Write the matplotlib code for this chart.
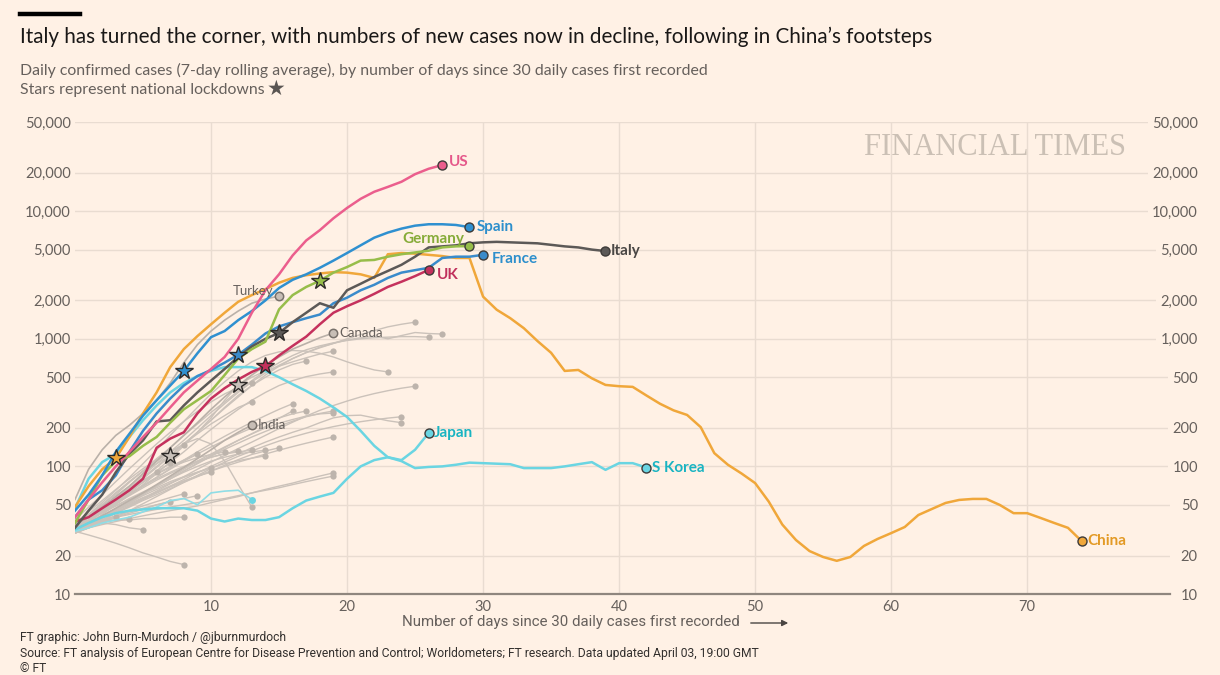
import numpy as np
import matplotlib
matplotlib.use("Agg")
import matplotlib.pyplot as plt
from matplotlib.ticker import FixedLocator, NullLocator

BG    = "#fff1e5"
GRID  = "#e9dcd1"
TXT   = "#66605c"
GREYL = "#cbc2ba"
GREYD = "#bdb4ac"

plt.rcParams["font.family"] = ["Lato", "DejaVu Sans"]

# ---- data: daily cases (7-day avg), index = days since 30 daily cases
us = [40, 55, 75, 100, 130, 170, 220, 290, 380, 470, 580, 720, 1000, 1600, 2400,
      3200, 4500, 5900, 7100, 8800, 10600, 12500, 14200, 15500, 17000, 19500, 21500, 23000]
spain = [45, 60, 85, 130, 180, 250, 330, 430, 560, 770, 1030, 1150, 1400, 1650, 2000,
         2500, 2900, 3200, 3600, 4100, 4700, 5400, 6200, 6800, 7300, 7700, 7900, 7900, 7800, 7500]
france = [40, 55, 65, 85, 130, 190, 260, 340, 430, 510, 570, 650, 750, 900, 1100,
          1250, 1350, 1450, 1550, 1900, 2100, 2400, 2650, 3000, 3300, 3450, 3600, 4300,
          4400, 4400, 4550]
germany = [36, 55, 85, 110, 120, 145, 170, 220, 280, 330, 390, 520, 700, 830, 950,
           1700, 2200, 2550, 2850, 3300, 3650, 4100, 4150, 4400, 4600, 4750, 4900, 5200,
           5300, 5330]
italy = [33, 45, 60, 90, 125, 160, 225, 230, 300, 380, 470, 580, 720, 870, 1000,
         1110, 1350, 1600, 1900, 1750, 2400, 2700, 3050, 3400, 3800, 4400, 5200, 5300,
         5400, 5600, 5700, 5750, 5700, 5650, 5600, 5450, 5300, 5200, 5000, 4870]
uk = [37, 40, 47, 55, 65, 80, 140, 165, 185, 260, 340, 410, 480, 550, 610, 740, 880,
      1040, 1300, 1600, 1800, 2000, 2250, 2550, 2800, 3100, 3470]
china = [48, 70, 95, 116, 170, 260, 380, 600, 830, 1050, 1300, 1600, 1950, 2200, 2450,
         2750, 3000, 3150, 3250, 3330, 3300, 3200, 3000, 4600, 4700, 4650, 4550, 4450,
         4300, 4300, 2140, 1690, 1450, 1210, 960, 777, 560, 570, 490, 435, 425, 420,
         360, 310, 275, 253, 203, 127, 103, 88, 74, 53, 35, 26.5, 21.7, 19.5, 18.2, 19.5,
         23.8, 27, 30, 33.5, 41.6, 46.4, 51.7, 54.6, 55.6, 55.6, 49.8, 43, 43, 39.4, 36,
         33, 26]
skorea = [47, 80, 108, 125, 170, 230, 300, 380, 450, 510, 560, 600, 600, 600, 560, 500,
          440, 390, 340, 290, 244, 190, 145, 118, 110, 97, 99, 100, 103, 107, 106, 105,
          104, 97, 97, 97, 100, 104, 108, 94, 106, 106, 98]
japan = [32, 36, 40, 43, 45, 46, 47, 47, 47, 45, 39, 37, 39, 38, 38, 40, 47, 54, 58, 62,
         80, 100, 112, 118, 112, 135, 183]
cyan_short = [31, 33, 36, 38, 40, 44, 48, 54, 56, 50, 62, 64, 65, 55]

turkey = [55, 95, 135, 175, 210, 260, 330, 450, 650, 900, 1150, 1400, 1650, 1900, 2050, 2160]
canada = [35, 40, 48, 58, 70, 88, 110, 140, 175, 220, 280, 350, 430, 520, 620, 720, 830,
          920, 1020, 1110]
india = [32, 36, 41, 47, 54, 62, 72, 84, 98, 115, 135, 160, 185, 211]

others = [
    [34, 40, 48, 58, 70, 85, 105, 130, 160, 200, 250, 310, 380, 460, 540, 620, 700, 780, 850, 920, 1000, 1080, 1160, 1240, 1300, 1350],
    [36, 42, 50, 60, 75, 92, 115, 140, 175, 215, 265, 320, 390, 470, 560, 650, 740, 820, 880, 930, 970, 1000, 1020, 1030, 1040, 1040, 1030],
    [33, 38, 45, 54, 66, 80, 98, 120, 150, 185, 230, 285, 350, 430, 520, 610, 700, 780, 860, 920, 980, 1020, 1050, 1000, 1060, 1120, 1100, 1090],
    [32, 37, 44, 52, 62, 75, 92, 115, 145, 185, 240, 330, 434, 500, 560, 610, 660, 710, 760, 800],
    [33, 40, 50, 62, 76, 92, 105, 121, 150, 185, 230, 290, 360, 430, 500, 570, 630, 670],
    [34, 42, 52, 65, 82, 105, 135, 175, 225, 290, 370, 460, 560, 660, 740, 790, 810, 800, 770, 720, 660, 610, 570, 550],
    [30, 35, 42, 50, 60, 72, 88, 108, 130, 160, 195, 235, 280, 330, 380, 430, 470, 505, 530, 550],
    [31, 34, 38, 43, 49, 56, 64, 73, 83, 95, 108, 122, 138, 155, 175, 198, 222, 248, 275, 300, 325, 350, 372, 392, 410, 425],
    [38, 48, 60, 76, 96, 120, 150, 185, 225, 270, 320, 370, 415, 450],
    [32, 38, 46, 56, 68, 82, 100, 122, 150, 180, 215, 250, 290, 320],
    [33, 38, 44, 51, 60, 70, 82, 96, 112, 130, 150, 172, 196, 222, 250, 280, 310],
    [30, 34, 39, 45, 52, 60, 70, 82, 95, 110, 125, 142, 160, 180, 205, 238, 272],
    [35, 40, 46, 53, 61, 71, 82, 95, 110, 125, 142, 160, 180, 200, 220, 240, 258, 272],
    [31, 35, 40, 46, 53, 61, 70, 80, 92, 105, 120, 136, 152, 170, 188, 207, 226, 245, 260, 272],
    [36, 40, 44, 49, 55, 62, 70, 80, 92, 106, 122, 140, 160, 180, 200, 218, 233, 248, 258, 262],
    [30, 33, 36, 40, 45, 51, 58, 66, 75, 85, 96, 108, 120, 132, 145, 158, 170, 182, 194, 205, 215, 224, 232, 239, 245],
    [33, 36, 40, 44, 49, 55, 62, 70, 79, 89, 100, 112, 125, 140, 155, 170, 185, 200, 220, 240, 250, 252, 240, 228, 220],
    [32, 36, 40, 45, 50, 56, 62, 69, 76, 84, 92, 100, 108, 116, 125, 134, 143, 152, 161, 170],
    [30, 34, 38, 43, 48, 54, 60, 67, 75, 83, 92, 102, 113, 124, 132, 140],
    [34, 38, 43, 49, 56, 63, 71, 80, 90, 100, 110, 118, 125, 130, 134],
    [31, 35, 40, 46, 52, 59, 66, 74, 82, 90, 98, 105, 111, 116, 121],
    [35, 40, 46, 53, 61, 70, 80, 90, 100, 110, 118, 125, 130, 134],
    [33, 38, 44, 51, 59, 68, 78, 88, 98, 108, 118, 126, 132],
    [36, 42, 49, 57, 66, 76, 87, 98, 108, 117, 124, 130],
    [32, 36, 41, 47, 54, 61, 68, 76, 83, 90, 97],
    [34, 37, 41, 46, 51, 57, 63, 70, 77, 84, 90],
    [31, 33, 35, 37, 39, 41, 43, 45, 47, 49, 52, 55, 58, 62, 66, 70, 74, 79, 84, 89],
    [35, 36, 38, 40, 42, 44, 46, 48, 50, 52, 54, 56, 59, 62, 65, 68, 72, 76, 80, 84],
    [33, 40, 50, 62, 76, 92, 110, 130, 150, 165, 150, 110, 72, 48],
    [32, 38, 45, 54, 64, 75, 88, 100, 112, 125],
    [36, 44, 54, 66, 80, 96, 113, 130, 147],
    [30, 36, 44, 53, 64, 77, 91, 106],
    [33, 40, 48, 57, 67, 78, 90],
    [30, 33, 37, 41, 45, 49, 53, 57, 61],
    [34, 36, 38, 41, 44, 47, 50, 53, 56, 59],
    [31, 34, 37, 40, 43, 46, 50, 53],
    [35, 36, 37, 38, 38, 39, 39, 40, 40],
    [30, 33, 37, 40],
    [34, 36, 37, 38, 39],
    [33, 35, 36, 35, 33, 32],
    [31, 29, 27, 25, 23, 21, 19.5, 18, 17],
]

# lockdown stars: (series, day)
stars_main = [("china", 3), ("spain", 8), ("france", 12), ("uk", 14),
              ("italy", 15), ("germany", 18)]
stars_grey = [(4, 7), (3, 12)]

series = {
    "us":      (us,      "#eb5e8d", "#e5588a", "US"),
    "spain":   (spain,   "#2f90d0", "#2d8fcc", "Spain"),
    "france":  (france,  "#3a8bcb", "#2d8fcc", "France"),
    "germany": (germany, "#97bd4a", "#86ab38", "Germany"),
    "italy":   (italy,   "#5c5957", "#4a4745", "Italy"),
    "uk":      (uk,      "#c5315d", "#c0305c", "UK"),
    "china":   (china,   "#f0a73a", "#e39a25", "China"),
    "skorea":  (skorea,  "#6ad5e2", "#19b4c2", "S Korea"),
    "japan":   (japan,   "#6ad5e2", "#19b4c2", "Japan"),
}

yticks = [10, 20, 50, 100, 200, 500, 1000, 2000, 5000, 10000, 20000, 50000]
ylabels = [f"{v:,}" for v in yticks]
xticks = [10, 20, 30, 40, 50, 60, 70]

W, H = 1220, 675
fig = plt.figure(figsize=(W / 100, H / 100), dpi=100, facecolor=BG)
ax = fig.add_axes([75 / W, 1 - 594 / H, 1095 / W, 472 / H])
ax.set_facecolor(BG)
ax.set_yscale("log")
ax.set_xlim(0, 80.5)
ax.set_ylim(10, 50000)

for s in ["top", "right", "left"]:
    ax.spines[s].set_visible(False)
ax.spines["bottom"].set_color("#8f867e")
ax.spines["bottom"].set_linewidth(1.6)

ax.yaxis.set_major_locator(FixedLocator(yticks))
ax.yaxis.set_minor_locator(NullLocator())
ax.set_yticklabels(ylabels)
ax.set_xticks(xticks)
ax.tick_params(axis="both", length=0, labelsize=10.5, labelcolor=TXT)
ax.tick_params(axis="y", pad=3)
ax.tick_params(axis="x", pad=4)
ax.grid(True, color=GRID, linewidth=1)
ax.set_axisbelow(True)

ax2 = ax.twinx()
ax2.set_yscale("log")
ax2.set_ylim(ax.get_ylim())
ax2.yaxis.set_major_locator(FixedLocator(yticks))
ax2.yaxis.set_minor_locator(NullLocator())
ax2.set_yticklabels(ylabels)
ax2.tick_params(axis="y", length=0, labelsize=10.5, labelcolor=TXT, pad=20)
for lab in ax2.get_yticklabels():
    lab.set_horizontalalignment("right")
    lab.set_bbox(dict(facecolor=BG, edgecolor="none", pad=3))
for s in ax2.spines.values():
    s.set_visible(False)

# watermark
ax.text(0.84, 0.945, "FINANCIAL TIMES", transform=ax.transAxes, ha="center",
        va="center", fontsize=22, color="#cbc0b5",
        family=["Liberation Serif", "DejaVu Serif"], zorder=0)

# grey countries
for vals in others:
    d = np.arange(len(vals))
    ax.plot(d, vals, color=GREYL, lw=1.0, zorder=2)
    ax.plot(d[-1], vals[-1], "o", ms=4.5, color=GREYD, mec="none", zorder=2)

for vals, name, side in [(turkey, "Turkey", "left"), (canada, "Canada", "right"),
                         (india, "India", "right")]:
    d = np.arange(len(vals))
    ax.plot(d, vals, color="#bab1a9", lw=1.2, zorder=3)
    ax.plot(d[-1], vals[-1], "o", ms=6, color="#c7beb6", mec="#77706a", mew=1.1, zorder=6)
    if side == "left":
        ax.annotate(name, (d[-1], vals[-1]), xytext=(-4, 4), textcoords="offset points",
                    ha="right", va="center", fontsize=9.5, color=TXT, zorder=6)
    else:
        ax.annotate(name, (d[-1], vals[-1]), xytext=(4, 0), textcoords="offset points",
                    ha="left", va="center", fontsize=9.5, color=TXT, zorder=6)

d = np.arange(len(cyan_short))
ax.plot(d, cyan_short, color="#8fdde6", lw=1.2, zorder=3)
ax.plot(d[-1], cyan_short[-1], "o", ms=5, color="#6ad5e2", mec="none", zorder=3)

# main countries
order = ["japan", "skorea", "china", "uk", "france", "italy", "germany", "spain", "us"]
for key in order:
    vals, col, lcol, name = series[key]
    d = np.arange(len(vals))
    ax.plot(d, vals, color=col, lw=1.8, zorder=4, solid_joinstyle="round")
    ax.plot(d[-1], vals[-1], "o", ms=6.5, color=col, mec="#3d3a38", mew=1.0, zorder=7)

label_pos = {
    "us": (5, 2, "left"), "spain": (5, 0, "left"), "france": (6, -3, "left"),
    "germany": (-4, 5, "right"), "italy": (4, 0, "left"), "uk": (6, -4, "left"),
    "china": (4, 0, "left"), "skorea": (4, 0, "left"), "japan": (4, 0, "left"),
}
for key, (dx, dy, ha) in label_pos.items():
    vals, col, lcol, name = series[key]
    ax.annotate(name, (len(vals) - 1, vals[-1]), xytext=(dx, dy),
                textcoords="offset points", ha=ha, va="center", fontsize=11,
                fontweight="bold", color=lcol, zorder=8)

for key, day in stars_main:
    vals, col = series[key][0], series[key][1]
    ax.plot(day, vals[day], "*", ms=13, color=col, mec="#2e2b29", mew=1.0, zorder=9)
for idx, day in stars_grey:
    ax.plot(day, others[idx][day], "*", ms=13, color="#c9c1ba", mec="#2e2b29",
            mew=1.0, zorder=9)

# titles and notes
def px(x, y):
    return x / W, 1 - y / H

fig.add_artist(plt.Line2D([20 / W, 80 / W], [1 - 13.5 / H] * 2, color="black", lw=3.2))
fig.text(*px(20, 37), "Italy has turned the corner, with numbers of new cases now in decline, following in China\u2019s footsteps",
         fontsize=14.9, color="#1a1817", va="center")
fig.text(*px(20, 70), "Daily confirmed cases (7-day rolling average), by number of days since 30 daily cases first recorded",
         fontsize=11.4, color=TXT, va="center")
fig.text(*px(20, 90), "Stars represent national lockdowns", fontsize=11.4, color=TXT, va="center")
fig.text(*px(267, 89), "\u2605", fontsize=15, color="#5a5552", va="center",
         family=["DejaVu Sans"])

fig.text(*px(402, 622), "Number of days since 30 daily cases first recorded", fontsize=10.8,
         color=TXT, va="center", family=["Roboto", "DejaVu Sans"])
fig.add_artist(matplotlib.patches.FancyArrowPatch(px(748, 623), px(791, 623), transform=fig.transFigure,
                                                  arrowstyle="-|>", mutation_scale=9, color="#4a4542", lw=1))

foot = ["FT graphic: John Burn-Murdoch / @jburnmurdoch",
        "Source: FT analysis of European Centre for Disease Prevention and Control; Worldometers; FT research. Data updated April 03, 19:00 GMT",
        "\u00a9 FT"]
for i, line in enumerate(foot):
    fig.text(*px(20, 638 + 15.5 * i), line, fontsize=8.7, color="#33302e", va="center",
             family=["Liberation Sans Narrow", "Roboto", "DejaVu Sans"])

fig.savefig("out.png", dpi=100, facecolor=BG)
